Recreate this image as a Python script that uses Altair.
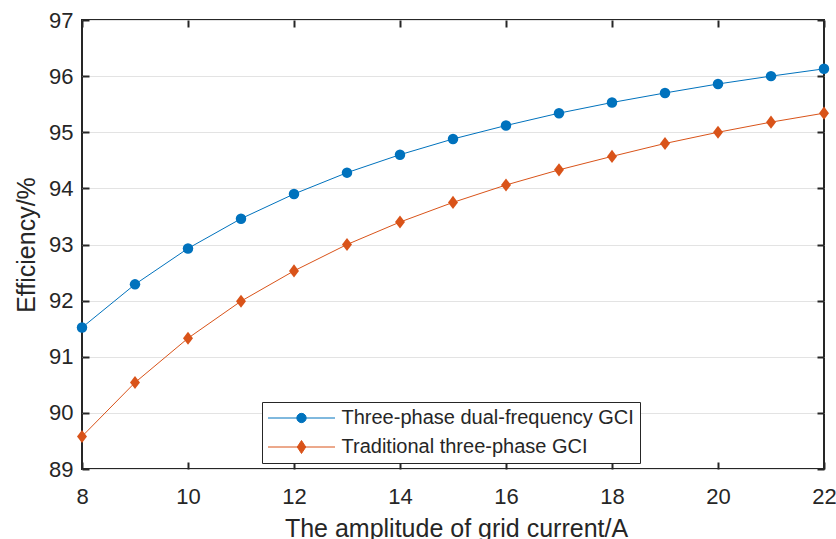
import altair as alt
import pandas as pd

# ---- data ----
current = [8, 9, 10, 11, 12, 13, 14, 15, 16, 17, 18, 19, 20, 21, 22]
dual_freq = [91.52, 92.29, 92.93, 93.46, 93.90, 94.28, 94.60, 94.88, 95.12, 95.34, 95.53, 95.70, 95.86, 96.00, 96.13]
traditional = [89.58, 90.54, 91.33, 91.99, 92.53, 93.00, 93.40, 93.75, 94.06, 94.33, 94.57, 94.80, 95.00, 95.18, 95.34]
series_names = ["Three-phase dual-frequency GCI", "Traditional three-phase GCI"]
colors = ["#0072BD", "#D95319"]
x_ticks = [8, 10, 12, 14, 16, 18, 20, 22]
y_ticks = [89, 90, 91, 92, 93, 94, 95, 96, 97]

df = pd.DataFrame({
    "current": current + current,
    "eff": dual_freq + traditional,
    "series": [series_names[0]] * len(current) + [series_names[1]] * len(current),
})

W, H = 742, 449
FONT = "Liberation Sans"
TXT = "#262626"

xs = alt.Scale(domain=[8, 22], nice=False, zero=False)
ys = alt.Scale(domain=[89, 97], nice=False, zero=False)
col = alt.Scale(domain=series_names, range=colors)

marker_shapes = ["circle", "M0,-1.25L0.95,0L0,1.25L-0.95,0Z"]
legend_shapes = [
    "M-6.7,0L6.7,0M-0.93,0A0.93,0.93,0,1,1,0.93,0A0.93,0.93,0,1,1,-0.93,0Z",
    "M-6.7,0L6.7,0M0,-1.3L0.85,0L0,1.3L-0.85,0Z",
]


def tick_axis(orient, offset, values):
    return alt.Axis(orient=orient, offset=offset, values=values, labels=False,
                    domain=False, grid=False, ticks=True, tickSize=7,
                    tickWidth=2, tickColor=TXT, title=None)


x_main = alt.Axis(orient="bottom", values=x_ticks, ticks=False, tickSize=0,
                  domain=False, grid=False, labelPadding=17, labelFontSize=22,
                  labelFont=FONT, labelColor=TXT, format="d", labelFlush=False,
                  labelOverlap=False,
                  title="The amplitude of grid current/A", titleFontSize=25,
                  titleFont=FONT, titleColor=TXT, titleFontWeight="normal",
                  titleBaseline="alphabetic", titleY=67, titleX=374)
y_main = alt.Axis(orient="left", values=y_ticks, ticks=False, tickSize=0,
                  domain=False, grid=True, gridColor="#E3E3E3", gridWidth=1,
                  labelPadding=9, labelFontSize=22, labelFont=FONT,
                  labelColor=TXT, format="d", labelFlush=False,
                  labelOverlap=False,
                  title="Efficiency/%", titleFontSize=25, titleFont=FONT,
                  titleColor=TXT, titleFontWeight="normal",
                  titleBaseline="alphabetic", titleAngle=270,
                  titleX=-48, titleY=224.5)

lines = alt.Chart(df).mark_line(strokeWidth=1).encode(
    x=alt.X("current:Q", scale=xs, axis=x_main),
    y=alt.Y("eff:Q", scale=ys, axis=y_main),
    color=alt.Color("series:N", scale=col, legend=None),
    detail="series:N",
)

points = alt.Chart(df).mark_point(filled=True, size=110, opacity=1).encode(
    x=alt.X("current:Q", scale=xs, axis=tick_axis("top", -H, x_ticks)),
    y=alt.Y("eff:Q", scale=ys, axis=tick_axis("right", -W, y_ticks)),
    color=alt.Color("series:N", scale=col, legend=None),
    shape=alt.Shape("series:N", scale=alt.Scale(domain=series_names, range=marker_shapes), legend=None),
)

leg_props = dict(orient="none", legendX=180, legendY=382, title=None,
                 symbolSize=100, symbolStrokeWidth=1, symbolOffset=23.5,
                 labelOffset=30, labelFont=FONT, labelFontSize=20,
                 labelColor=TXT, labelLimit=500, padding=6, rowPadding=9,
                 strokeColor=TXT, fillColor="white")

legend_layer = alt.Chart(df).mark_point(filled=True, size=100, opacity=1, strokeWidth=1).encode(
    x=alt.X("current:Q", scale=xs, axis=tick_axis("bottom", -H, x_ticks)),
    y=alt.Y("eff:Q", scale=ys, axis=tick_axis("left", -W, y_ticks)),
    fill=alt.Fill("series:N", scale=alt.Scale(domain=series_names, range=colors), legend=alt.Legend(**leg_props)),
    stroke=alt.Stroke("series:N", scale=alt.Scale(domain=series_names, range=colors), legend=alt.Legend(**leg_props)),
    shape=alt.Shape("series:N", scale=alt.Scale(domain=series_names, range=legend_shapes), legend=alt.Legend(**leg_props)),
).transform_filter("false")

chart = alt.layer(lines, points, legend_layer).resolve_scale(
    shape="independent", fill="independent", stroke="independent"
).resolve_axis(
    x="independent", y="independent"
).properties(
    width=W, height=H,
    autosize=alt.AutoSizeParams(type="none"),
    padding={"left": 82, "top": 20, "right": 12, "bottom": 70},
    background="white",
).configure_view(
    stroke=TXT, strokeWidth=2
)

chart.save("out.html", embed_options={"renderer": "svg", "actions": False})
